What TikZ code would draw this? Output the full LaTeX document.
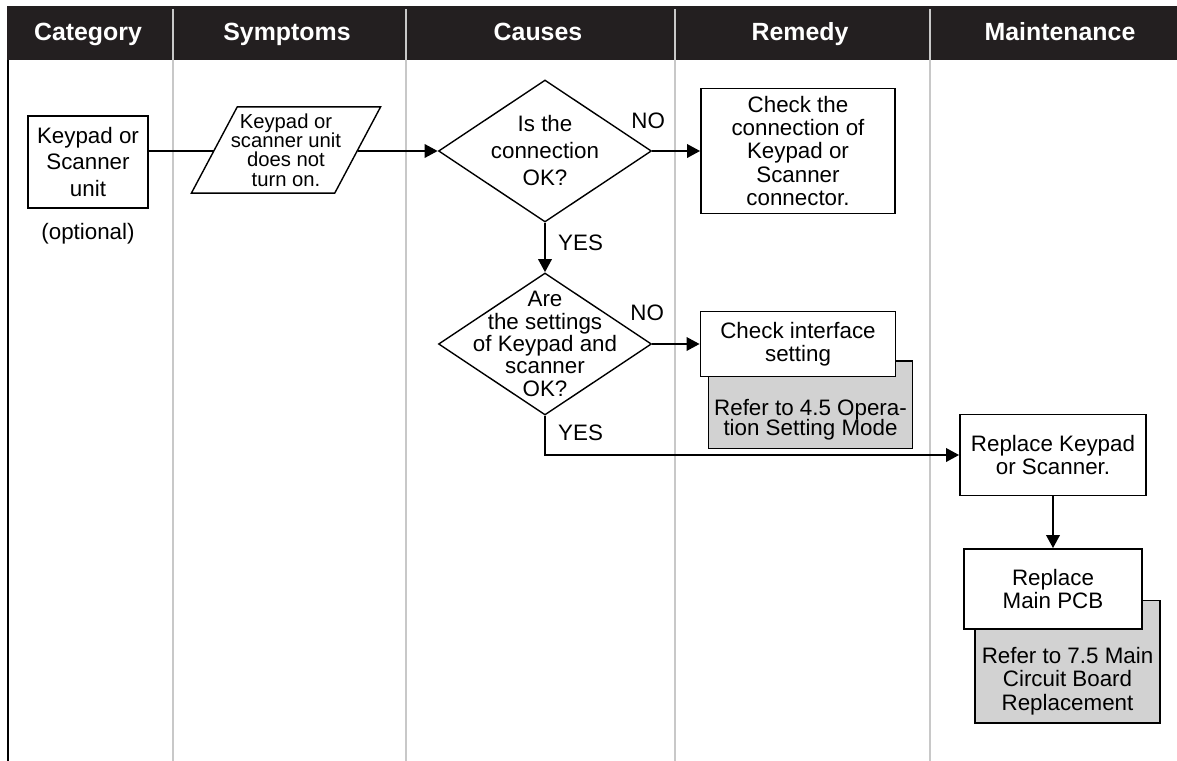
\documentclass[tikz,border=0pt]{standalone}
\usepackage{fontspec}
\setmainfont{Liberation Sans}
\usetikzlibrary{arrows.meta,positioning,shapes.geometric,calc,backgrounds}

\definecolor{headbg}{HTML}{231F20}
\definecolor{lanegray}{HTML}{C8C8C8}
\definecolor{refgray}{HTML}{D2D2D2}
\setlength{\lineskiplimit}{-\maxdimen}

\begin{document}
\begin{tikzpicture}[
    x=0.25mm,y=-0.25mm,
    font=\fontsize{15.9}{16.4}\selectfont,
    head/.style={anchor=base,text=white,font=\fontsize{17.7}{20}\selectfont\bfseries},
    lane/.style={draw=lanegray,line width=0.5mm},
    box/.style={draw,line width=1.1pt,fill=white,align=center,inner sep=0pt},
    refbox/.style={draw,line width=1.1pt,fill=refgray,align=center,
        inner xsep=0pt,inner ysep=2mm,anchor=north west},
    decision/.style={diamond,draw,line width=1pt,fill=white,align=center,
        inner sep=-8mm,minimum width=53.25mm,minimum height=35.5mm},
    io/.style={trapezium,trapezium left angle=62,trapezium right angle=118,
        draw,line width=1pt,fill=white,align=center,
        inner xsep=-1.6mm,inner ysep=1.7mm,
        font=\fontsize{14.4}{13.7}\selectfont},
    lbl/.style={inner sep=0pt},
    link/.style={line width=2.1pt},
    arrow/.style={link,-{Triangle[length=3.3mm,width=3.3mm]}}
]
\useasboundingbox (0,0) rectangle (1177,761);

% header bar and swim lanes
\fill[headbg] (7,6) rectangle (1177,60);
\draw[lane] (173,9) -- (173,761);
\draw[lane] (406,9) -- (406,761);
\draw[lane] (675,9) -- (675,761);
\draw[lane] (930,9) -- (930,761);
\draw[line width=0.65mm] (8,60) -- (8,761);

\node[head] (hcat) at (88,40) {Category};
\node[head] (hsym) at (287,40) {Symptoms};
\node[head] (hcau) at (538,40) {Causes};
\node[head] (hrem) at (800,40) {Remedy};
\node[head] (hmnt) at (1060,40) {Maintenance};

% flow
\node[box,minimum width=30mm,minimum height=23mm,
    font=\fontsize{15.9}{19}\selectfont] (unit) at (88,162) {Keypad or\\Scanner\\unit};
\node[below=2.5mm of unit] (opt) {(optional)};
\node[io] (symptom) at (286,150) {Keypad or\\scanner unit\\does not\\turn on.};
\node[decision,font=\fontsize{15.9}{19.2}\selectfont] (conncheck) at (545,151)
    {Is the\\connection\\OK?};
\node[decision,font=\fontsize{15.9}{15.9}\selectfont] (setcheck) at (545,344)
    {Are\\the settings\\of Keypad and\\scanner\\OK?};
\node[box,minimum width=48.5mm,minimum height=31.25mm] (fixconn) at (798,151)
    {Check the\\connection of\\Keypad or\\Scanner\\connector.};
\node[box,minimum width=48.75mm,minimum height=16.25mm] (fixiface) at (798,344)
    {Check interface\\setting};
\node[box,minimum width=46.5mm,minimum height=20.25mm] (replunit) at (1053,455)
    {Replace Keypad\\or Scanner.};
\node[box,minimum width=44.5mm,minimum height=20mm] (replpcb) at (1053,589)
    {Replace\\Main PCB};

% grey notes sit behind the boxes
\begin{scope}[on background layer]
\node[refbox,minimum width=51mm,font=\fontsize{15.9}{14.9}\selectfont] (ifaceref)
    at ($(fixiface.south west)+(8,-17)$)
    {\rule{0pt}{11.5mm}Refer to 4.5 Opera-\\tion Setting Mode};
\node[refbox,minimum width=46.25mm,font=\fontsize{15.9}{16.6}\selectfont] (pcbref)
    at ($(replpcb.south west)+(11,-30)$)
    {\rule{0pt}{13.75mm}Refer to 7.5 Main\\Circuit Board\\Replacement};
\end{scope}

\draw[link] (unit.east |- conncheck) -- (symptom.west |- conncheck);
\draw[arrow] (symptom.east |- conncheck) -- (conncheck);
\draw[arrow] (conncheck) -- node[lbl,pos=0,xshift=-1mm,yshift=7.5mm] {NO} (fixconn);
\draw[arrow] (conncheck) -- node[lbl,pos=0,xshift=8.9mm,yshift=-5mm] {YES} (setcheck);
\draw[arrow] (setcheck) -- node[lbl,pos=0,xshift=-1.25mm,yshift=7.9mm] {NO} (fixiface);
\draw[arrow] (setcheck.south) |- node[lbl,pos=0,xshift=8.9mm,yshift=-4.25mm] {YES} (replunit);
\draw[arrow] (replunit) -- (replpcb);
\end{tikzpicture}
\end{document}
